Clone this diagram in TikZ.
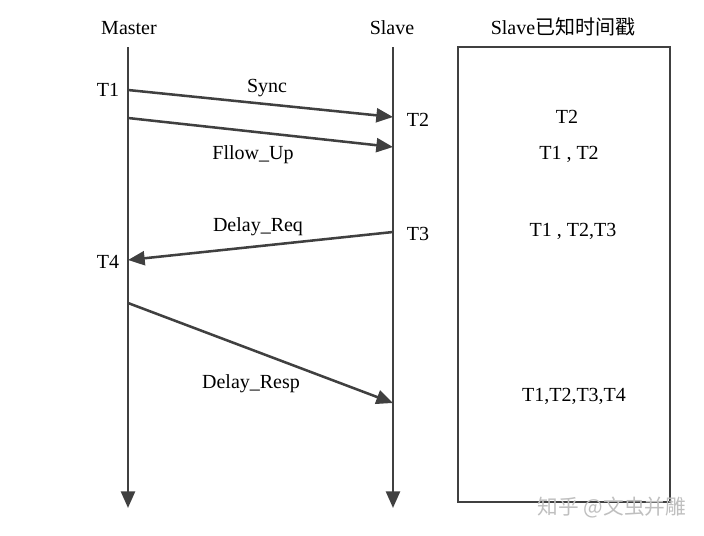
\documentclass[tikz,border=0pt]{standalone}
\usepackage{fontspec}
\setmainfont{Liberation Serif}
\newfontfamily\cjk{Noto Sans CJK SC}
\usetikzlibrary{arrows.meta}
\definecolor{linegray}{HTML}{404040}

\begin{document}
\begin{tikzpicture}[x=0.75pt,y=-0.75pt,
	line/.style={draw=linegray,line width=1.9pt},
	msg/.style={line,-{Triangle[length=12.5pt,width=10.5pt]}},
	lbl/.style={font=\fontsize{15}{18}\selectfont,inner sep=0pt}]

	\useasboundingbox (0,0) rectangle (704,536);

	\node[lbl] (master) at (129,28) {Master};
	\node[lbl] (slave) at (392,28) {Slave};
	\node[lbl] (known) at (563,27) {Slave{\cjk 已知时间戳}};

	\coordinate (mtop) at (128,47);
	\coordinate (mbot) at (128,508);
	\coordinate (stop) at (393,47);
	\coordinate (sbot) at (393,508);
	\draw[msg] (mtop) -- (mbot);
	\draw[msg] (stop) -- (sbot);

	\coordinate (syncA) at (128,90);
	\coordinate (syncB) at (393,117);
	\coordinate (fupA) at (128,118);
	\coordinate (fupB) at (393,147);
	\coordinate (reqA) at (393,232);
	\coordinate (reqB) at (128,260);
	\coordinate (respA) at (128,303);
	\coordinate (respB) at (393,403);

	\draw[msg] (syncA) -- (syncB);
	\draw[msg] (fupA) -- (fupB);
	\draw[msg] (reqA) -- (reqB);
	\draw[msg] (respA) -- (respB);

	\node[lbl] (t1) at (108,90) {T1};
	\node[lbl] (t2) at (418,120) {T2};
	\node[lbl] (t3) at (418,234) {T3};
	\node[lbl] (t4) at (108,262) {T4};

	\node[lbl] (sync) at (267,88) {Sync};
	\node[lbl] (fup) at (253,155) {Fllow\_Up};
	\node[lbl] (req) at (258,227) {Delay\_Req};
	\node[lbl] (resp) at (251,384) {Delay\_Resp};

	\coordinate (boxA) at (458,47);
	\coordinate (boxB) at (670,502);
	\draw[line] (boxA) rectangle (boxB);

	\node[lbl] (k1) at (567,117) {T2};
	\node[lbl] (k2) at (569,154) {T1 , T2};
	\node[lbl] (k3) at (573,231) {T1 , T2,T3};
	\node[lbl] (k4) at (574,396) {T1,T2,T3,T4};

	\node[font=\cjk\fontsize{15.5}{18}\selectfont,text=gray!50,inner sep=0pt] (mark) at (612,508) {知乎 @文虫并雕};

\end{tikzpicture}
\end{document}
